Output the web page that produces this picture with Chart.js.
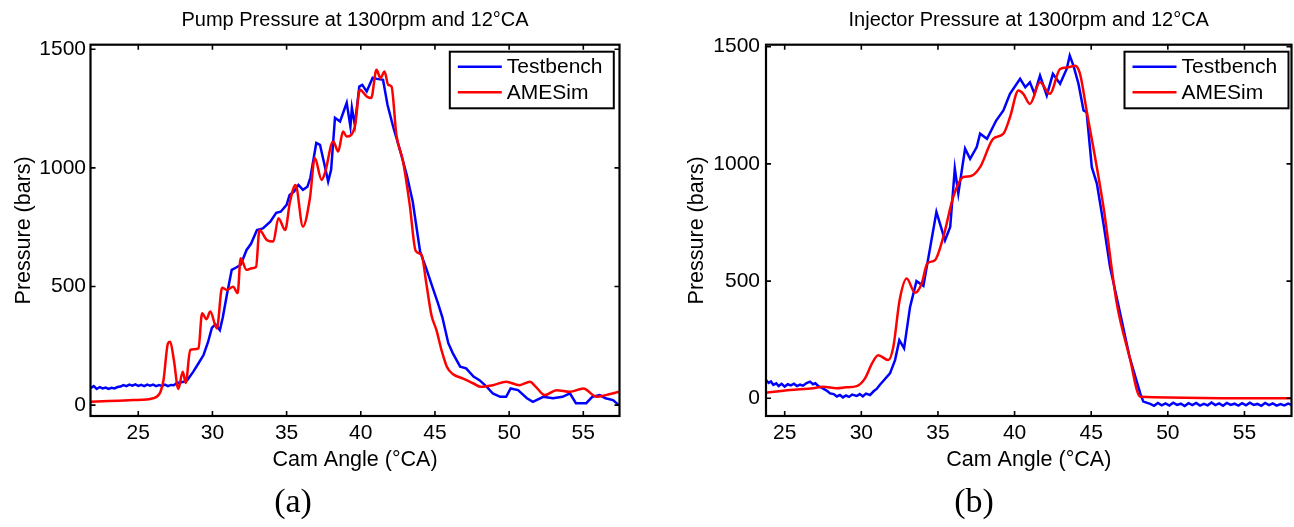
<!DOCTYPE html>
<html><head><meta charset="utf-8">
<script src="https://cdn.jsdelivr.net/npm/chart.js@4.4.1/dist/chart.umd.min.js"></script>
<style>
html,body{margin:0;padding:0;background:#fff;width:1294px;height:527px;overflow:hidden}
canvas{position:absolute;top:0}
#cA{left:0}
#cB{left:647px}
.cap{position:absolute;font-family:'Liberation Serif','Times New Roman',serif;font-size:34px;color:#000;transform:translate(-50%,-50%);white-space:nowrap;line-height:1}
</style></head><body>
<canvas id="cA" width="647" height="527"></canvas>
<canvas id="cB" width="647" height="527"></canvas>
<div class="cap" style="left:293px;top:501px">(a)</div>
<div class="cap" style="left:974px;top:501px">(b)</div>
<script>
// ---------- data ----------
const seriesNames = ['Testbench', 'AMESim'];
const pressureTicks = [0, 500, 1000, 1500];
const camTicks = [25, 30, 35, 40, 45, 50, 55];

// Pump pressure (a)
const pumpXRange = [21.78, 57.44];
const pumpYRange = [-46, 1519];
const pumpTestX = [21.8,22.0,22.2,22.4,22.6,22.8,23.0,23.2,23.4,23.6,23.8,24.0,24.2,24.4,24.6,24.8,25.0,25.2,25.4,25.6,25.8,26.0,26.2,26.4,26.6,26.8,27.0,27.2,27.4,27.6,28.0,28.3,28.7,29.0,29.4,29.7,29.96,30.2,30.5,30.7,30.97,31.3,31.6,31.9,32.3,32.6,33.0,33.4,33.9,34.3,34.6,35.0,35.2,35.5,35.8,36.1,36.4,36.6,37.0,37.25,37.6,37.8,38.0,38.26,38.6,38.8,39.05,39.3,39.4,39.6,39.9,40.1,40.4,40.8,41.1,41.5,41.8,42.2,42.6,43.1,43.5,44.0,44.4,44.85,45.2,45.5,45.9,46.2,46.7,47.1,47.6,48.0,48.5,48.9,49.4,49.8,50.1,50.6,51.2,51.6,52.3,52.95,53.6,54.1,54.5,55.2,55.6,56.1,56.5,57.0,57.4];
const pumpTestY = [72,80,68,76,70,74,68,73,70,76,78,84,80,86,82,87,81,85,80,86,82,86,80,84,81,86,80,85,84,93,97,105,140,170,211,265,325,340,316,370,464,570,580,591,654,680,738,745,773,810,815,844,886,900,928,907,920,958,1105,1097,1000,942,992,1211,1195,1230,1274,1174,1253,1181,1343,1350,1322,1380,1375,1371,1266,1169,1084,970,858,647,578,494,430,370,261,219,162,155,120,105,77,49,35,35,70,63,29,14,35,29,35,49,8,8,35,42,29,21,0];
const pumpSimX = [21.8,23.0,24.7,26.0,26.5,26.7,27.0,27.15,27.4,27.7,28.0,28.2,28.5,29.06,29.3,29.6,29.85,30.3,30.65,30.97,31.4,31.7,31.9,32.3,32.65,32.94,33.17,33.66,34.1,34.45,34.9,35.23,35.6,36.1,36.57,36.9,37.36,37.58,38.14,38.48,38.8,39.05,39.6,39.94,40.4,40.7,41.06,41.33,41.6,41.85,42.07,42.4,42.85,43.3,43.7,44.1,44.4,44.76,45.1,45.44,45.8,46.2,46.9,47.6,48.1,48.9,49.8,50.7,51.4,51.8,52.4,53.2,54.1,55.0,55.9,56.5,57.4];
const pumpSimY = [14,17,21,29,56,105,260,267,190,68,141,93,232,239,387,362,394,323,495,485,499,472,619,570,577,583,738,696,689,788,738,858,928,752,872,1041,949,978,1111,1069,1153,1132,1174,1329,1301,1294,1413,1378,1406,1350,1343,1139,1027,844,650,633,520,380,316,232,162,131,112,91,77,84,98,84,98,77,42,63,56,70,35,42,56];

// Injector pressure (b)
const injXRange = [23.78, 58.07];
const injYRange = [-75.5, 1508.5];
const injTestX = [23.78,23.95,24.1,24.26,24.45,24.6,24.8,25.0,25.2,25.4,25.6,25.8,26.0,26.2,26.4,26.65,26.85,27.0,27.2,27.4,27.6,27.8,27.96,28.2,28.4,28.6,28.8,29.0,29.2,29.4,29.7,29.9,30.1,30.3,30.57,30.8,31.0,31.2,31.87,32.2,32.48,32.79,33.18,33.6,34.05,34.5,34.9,35.46,35.8,36.1,36.33,36.77,37.1,37.53,37.75,38.2,38.8,39.27,39.7,40.36,40.7,41.0,41.3,41.66,42.1,42.5,42.97,43.4,43.6,43.84,44.17,44.5,44.7,45.04,45.37,45.8,46.23,46.9,47.5,48.2,48.4,48.85,49.1,49.35,49.6,49.85,50.1,50.35,50.6,50.85,51.1,51.35,51.6,51.85,52.1,52.35,52.6,52.85,53.1,53.35,53.6,53.85,54.1,54.35,54.6,54.85,55.1,55.35,55.6,55.85,56.1,56.35,56.6,56.85,57.1,57.35,57.6,57.85,58.07];
const injTestY = [78,66,72,57,64,52,62,50,60,55,62,52,58,54,64,71,60,64,52,45,38,30,21,18,8,14,4,12,6,16,10,18,8,20,14,30,40,57,106,163,248,213,390,500,480,646,795,674,731,980,873,1065,1022,1072,1129,1107,1185,1228,1299,1363,1327,1348,1299,1377,1292,1384,1342,1405,1462,1419,1342,1228,1221,986,916,745,560,360,177,21,-14,-24,-32,-20,-30,-22,-31,-19,-28,-23,-33,-21,-29,-20,-31,-24,-30,-18,-29,-22,-32,-20,-28,-23,-31,-21,-30,-19,-28,-24,-32,-20,-29,-22,-31,-25,-30,-23,-28];
const injSimX = [23.78,25.35,26.87,27.5,28.4,29.0,29.7,30.24,30.7,31.1,31.76,32.09,32.5,32.96,33.5,33.94,34.3,34.8,35.35,36.0,36.66,37.1,37.75,38.6,39.27,39.7,40.25,40.57,41.0,41.66,42.3,42.97,43.5,43.95,44.27,44.7,45.8,46.67,47.5,48.2,58.07];
const injSimY = [24,35,43,49,43,47,52,85,149,184,163,220,419,511,450,490,575,589,688,859,944,947,986,1107,1129,1199,1313,1299,1256,1348,1299,1405,1412,1419,1384,1228,816,405,177,7,0];

// ---------- helpers ----------
const SANS = "'Liberation Sans', Arial, sans-serif";
const zip = (xs, ys) => xs.map((x, i) => ({x, y: ys[i]}));

const frame = {
  id: 'frame',
  afterDatasetsDraw(chart, args, opts) {
    const {ctx, chartArea: a, scales: {x, y}} = chart;
    ctx.save();
    ctx.strokeStyle = '#000';
    ctx.lineWidth = 1.6;
    ctx.beginPath();
    x.ticks.forEach(t => {
      const p = x.getPixelForValue(t.value);
      ctx.moveTo(p, a.bottom); ctx.lineTo(p, a.bottom - 5);
      ctx.moveTo(p, a.top); ctx.lineTo(p, a.top + 5);
    });
    y.ticks.forEach(t => {
      const p = y.getPixelForValue(t.value);
      ctx.moveTo(a.left, p); ctx.lineTo(a.left + 5, p);
      ctx.moveTo(a.right, p); ctx.lineTo(a.right - 5, p);
    });
    ctx.stroke();
    ctx.lineWidth = 2.2;
    ctx.strokeRect(a.left, a.top, a.right - a.left, a.bottom - a.top);
    // legend box inside upper right
    const w = 164, h = 56.6;
    const bx = a.right - opts.rightGap - w, by = a.top + 7;
    ctx.fillStyle = '#fff';
    ctx.fillRect(bx, by, w, h);
    ctx.lineWidth = 2;
    ctx.strokeRect(bx, by, w, h);
    ctx.font = '21px ' + SANS;
    ctx.textBaseline = 'middle';
    ctx.textAlign = 'left';
    chart.data.datasets.forEach((ds, i) => {
      const ry = by + 15 + i * 25.6;
      ctx.strokeStyle = ds.borderColor;
      ctx.lineWidth = 2.5;
      ctx.beginPath();
      ctx.moveTo(bx + 8, ry); ctx.lineTo(bx + 52, ry);
      ctx.stroke();
      ctx.fillStyle = '#000';
      ctx.fillText(ds.label, bx + 57, ry + 0.5);
    });
    ctx.restore();
  }
};

function makeChart(id, o) {
  return new Chart(document.getElementById(id), {
    type: 'line',
    data: {
      datasets: [
        {label: seriesNames[0], data: zip(o.tx, o.ty), borderColor: '#0000ff', borderWidth: 2.5, pointRadius: 0, tension: 0, fill: false, order: 1},
        {label: seriesNames[1], data: zip(o.sx, o.sy), borderColor: '#ff0000', borderWidth: 2.5, pointRadius: 0, cubicInterpolationMode: 'monotone', fill: false, order: 0}
      ]
    },
    options: {
      responsive: false,
      animation: false,
      devicePixelRatio: 1,
      layout: {padding: {left: 0, right: o.padRight, top: 0, bottom: 0}},
      plugins: {
        legend: {display: false},
        tooltip: {enabled: false},
        title: {display: true, text: o.title, fullSize: false, color: '#000',
          font: {family: SANS, size: 20, weight: 'normal'}, padding: {top: 8, bottom: 12.7}},
        frame: {rightGap: o.legendGap}
      },
      scales: {
        x: {
          type: 'linear', min: o.xr[0], max: o.xr[1],
          grid: {display: false, drawTicks: false}, border: {display: false},
          afterBuildTicks: s => { s.ticks = camTicks.map(v => ({value: v})); },
          ticks: {color: '#000', font: {family: SANS, size: 21}, padding: 4.4, maxRotation: 0, autoSkip: false, callback: v => String(v)},
          title: {display: true, text: 'Cam Angle (°CA)', color: '#000', font: {family: SANS, size: 21.5}, padding: {top: 0, bottom: 54}},
          afterFit: s => { s.height = 111; }
        },
        y: {
          type: 'linear', min: o.yr[0], max: o.yr[1],
          grid: {display: false, drawTicks: false}, border: {display: false},
          afterBuildTicks: s => { s.ticks = pressureTicks.map(v => ({value: v})); },
          ticks: {color: '#000', font: {family: SANS, size: 21}, padding: o.yPad, callback: v => String(v)},
          title: {display: true, text: 'Pressure (bars)', color: '#000', font: {family: SANS, size: 21.5}, padding: {top: o.yTitlePad, bottom: 0}},
          afterFit: s => { s.width = o.yWidth; }
        }
      }
    },
    plugins: [frame]
  });
}

makeChart('cA', {
  title: 'Pump Pressure at 1300rpm and 12°CA',
  tx: pumpTestX, ty: pumpTestY, sx: pumpSimX, sy: pumpSimY,
  xr: pumpXRange, yr: pumpYRange,
  padRight: 27.5, yWidth: 90.5, yPad: 4.5, yTitlePad: 11.3, legendGap: 5.7
});
makeChart('cB', {
  title: 'Injector Pressure at 1300rpm and 12°CA',
  tx: injTestX, ty: injTestY, sx: injSimX, sy: injSimY,
  xr: injXRange, yr: injYRange,
  padRight: 2.5, yWidth: 119, yPad: 6, yTitlePad: 37.6, legendGap: 3
});
</script>
</body></html>
